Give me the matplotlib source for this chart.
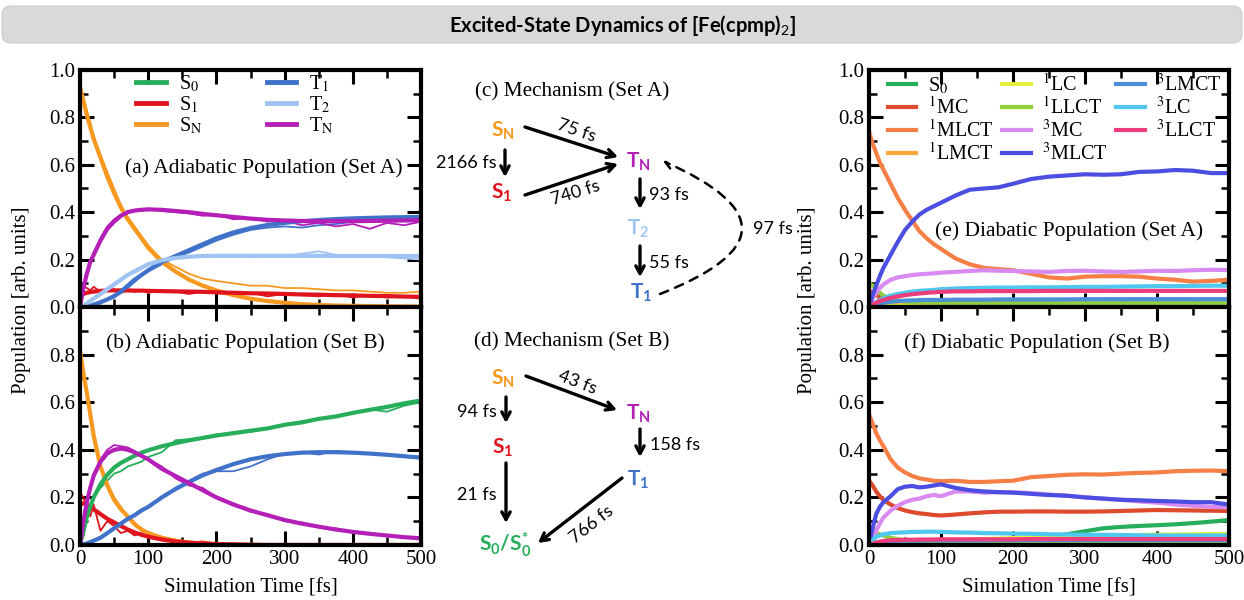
import matplotlib as mpl
mpl.use('Agg')
import matplotlib.pyplot as plt
from matplotlib.lines import Line2D
from matplotlib.patches import FancyBboxPatch
from matplotlib.ticker import MultipleLocator

mpl.rcParams['font.family'] = 'Liberation Serif'
mpl.rcParams['mathtext.fontset'] = 'stix'
mpl.rcParams['mathtext.rm'] = 'Lato'
mpl.rcParams['mathtext.bf'] = 'Lato:bold'
mpl.rcParams['mathtext.it'] = 'Lato:italic'

# ---------------- data ----------------
time = [0, 5, 10, 15, 20, 30, 40, 50, 60, 70, 80, 90, 100, 120, 140, 160, 180, 200,
        225, 250, 275, 300, 325, 350, 375, 400, 425, 450, 475, 500]

adiabatic_states = ['S0', 'S1', 'SN', 'T1', 'T2', 'TN']
adiabatic_labels = [r'S$_0$', r'S$_1$', r'S$_\mathrm{N}$', r'T$_1$', r'T$_2$', r'T$_\mathrm{N}$']

# (a) set A, fitted curves
sn_a_fit = [0.93, 0.87, 0.81, 0.76, 0.71, 0.63, 0.55, 0.48, 0.42, 0.37, 0.33, 0.29, 0.25, 0.19, 0.15, 0.115, 0.09, 0.07,
            0.05, 0.035, 0.025, 0.018, 0.012, 0.009, 0.006, 0.005, 0.004, 0.003, 0.002, 0.002]
s1_a_fit = [0.05, 0.055, 0.06, 0.063, 0.065, 0.068, 0.07, 0.07, 0.07, 0.07, 0.069, 0.069, 0.068, 0.067, 0.066, 0.065, 0.064, 0.062,
            0.06, 0.058, 0.057, 0.055, 0.053, 0.052, 0.05, 0.049, 0.047, 0.046, 0.044, 0.043]
tn_a_fit = [0.0, 0.08, 0.14, 0.19, 0.22, 0.28, 0.33, 0.36, 0.385, 0.40, 0.407, 0.41, 0.412, 0.41, 0.405, 0.40, 0.393, 0.387,
            0.38, 0.373, 0.368, 0.365, 0.363, 0.362, 0.362, 0.362, 0.363, 0.364, 0.365, 0.366]
t1_a_fit = [0.0, 0.0, 0.002, 0.005, 0.01, 0.02, 0.032, 0.046, 0.065, 0.09, 0.115, 0.135, 0.155, 0.19, 0.215, 0.24, 0.265, 0.29,
            0.315, 0.333, 0.346, 0.355, 0.362, 0.367, 0.371, 0.374, 0.376, 0.378, 0.379, 0.38]
t2_a_fit = [0.0, 0.005, 0.015, 0.025, 0.035, 0.055, 0.075, 0.095, 0.115, 0.135, 0.15, 0.165, 0.18, 0.197, 0.207, 0.212, 0.215, 0.216,
            0.216, 0.216, 0.216, 0.216, 0.216, 0.216, 0.215, 0.215, 0.215, 0.215, 0.215, 0.215]
# (a) set A, raw populations
sn_a_raw = [0.93, 0.88, 0.83, 0.78, 0.72, 0.64, 0.57, 0.50, 0.43, 0.38, 0.34, 0.30, 0.26, 0.20, 0.17, 0.14, 0.12, 0.11,
            0.10, 0.09, 0.09, 0.08, 0.08, 0.075, 0.07, 0.07, 0.065, 0.06, 0.06, 0.065]
s1_a_raw = [0.05, 0.09, 0.08, 0.07, 0.085, 0.065, 0.07, 0.075, 0.06, 0.07, 0.065, 0.07, 0.06, 0.07, 0.065, 0.055, 0.065, 0.06,
            0.05, 0.06, 0.045, 0.055, 0.05, 0.045, 0.055, 0.04, 0.05, 0.04, 0.045, 0.035]
tn_a_raw = [0.0, 0.07, 0.13, 0.18, 0.23, 0.29, 0.34, 0.37, 0.39, 0.405, 0.41, 0.405, 0.415, 0.405, 0.40, 0.395, 0.385, 0.39,
            0.37, 0.375, 0.36, 0.365, 0.345, 0.355, 0.34, 0.35, 0.33, 0.355, 0.345, 0.36]
t1_a_raw = [0.0, 0.0, 0.0, 0.003, 0.008, 0.015, 0.03, 0.04, 0.06, 0.08, 0.105, 0.13, 0.15, 0.18, 0.21, 0.23, 0.255, 0.28,
            0.305, 0.325, 0.335, 0.34, 0.335, 0.345, 0.35, 0.36, 0.365, 0.37, 0.375, 0.38]
t2_a_raw = [0.0, 0.01, 0.02, 0.03, 0.04, 0.06, 0.08, 0.1, 0.12, 0.14, 0.155, 0.17, 0.185, 0.2, 0.21, 0.215, 0.22, 0.215,
            0.22, 0.21, 0.22, 0.215, 0.225, 0.235, 0.22, 0.215, 0.22, 0.21, 0.205, 0.2]

# (b) set B, fitted curves
s0_b_fit = [0.0, 0.06, 0.12, 0.16, 0.2, 0.255, 0.295, 0.325, 0.345, 0.36, 0.375, 0.388, 0.398, 0.415, 0.428, 0.44, 0.45, 0.46,
            0.47, 0.48, 0.49, 0.505, 0.515, 0.53, 0.54, 0.555, 0.568, 0.58, 0.595, 0.607]
s1_b_fit = [0.17, 0.175, 0.17, 0.16, 0.15, 0.13, 0.11, 0.095, 0.08, 0.065, 0.053, 0.043, 0.035, 0.023, 0.015, 0.01, 0.006, 0.004,
            0.002, 0.001, 0.0, 0.0, 0.0, 0.0, 0.0, 0.0, 0.0, 0.0, 0.0, 0.0]
sn_b_fit = [0.82, 0.72, 0.64, 0.55, 0.46, 0.33, 0.25, 0.19, 0.15, 0.12, 0.088, 0.065, 0.05, 0.03, 0.018, 0.01, 0.006, 0.004,
            0.002, 0.001, 0.0, 0.0, 0.0, 0.0, 0.0, 0.0, 0.0, 0.0, 0.0, 0.0]
tn_b_fit = [0.0, 0.1, 0.18, 0.24, 0.29, 0.35, 0.385, 0.40, 0.405, 0.40, 0.39, 0.375, 0.36, 0.32, 0.29, 0.26, 0.23, 0.2,
            0.17, 0.145, 0.125, 0.105, 0.09, 0.077, 0.065, 0.055, 0.047, 0.04, 0.033, 0.028]
t1_b_fit = [0.0, 0.003, 0.007, 0.012, 0.018, 0.03, 0.05, 0.07, 0.09, 0.11, 0.125, 0.145, 0.16, 0.2, 0.235, 0.265, 0.293, 0.315,
            0.34, 0.36, 0.373, 0.382, 0.388, 0.39, 0.39, 0.388, 0.384, 0.379, 0.373, 0.367]
# (b) set B, raw populations
s0_b_raw = [0.0, 0.04, 0.1, 0.17, 0.2, 0.24, 0.27, 0.30, 0.31, 0.33, 0.34, 0.35, 0.37, 0.39, 0.44, 0.445, 0.45, 0.465,
            0.47, 0.475, 0.49, 0.505, 0.52, 0.53, 0.54, 0.555, 0.57, 0.56, 0.585, 0.6]
s1_b_raw = [0.22, 0.2, 0.15, 0.12, 0.17, 0.06, 0.1, 0.08, 0.05, 0.06, 0.04, 0.05, 0.03, 0.025, 0.02, 0.01, 0.015, 0.005,
            0.008, 0.0, 0.0, 0.0, 0.0, 0.0, 0.0, 0.0, 0.0, 0.0, 0.0, 0.0]
sn_b_raw = [0.82, 0.73, 0.65, 0.56, 0.47, 0.34, 0.26, 0.2, 0.16, 0.12, 0.09, 0.07, 0.05, 0.035, 0.02, 0.012, 0.008, 0.005,
            0.003, 0.002, 0.0, 0.0, 0.0, 0.0, 0.0, 0.0, 0.0, 0.0, 0.0, 0.0]
tn_b_raw = [0.0, 0.09, 0.17, 0.25, 0.3, 0.36, 0.4, 0.42, 0.415, 0.41, 0.395, 0.37, 0.36, 0.33, 0.28, 0.25, 0.24, 0.2,
            0.175, 0.14, 0.13, 0.1, 0.095, 0.075, 0.07, 0.055, 0.05, 0.04, 0.035, 0.03]
t1_b_raw = [0.0, 0.0, 0.005, 0.01, 0.02, 0.035, 0.05, 0.075, 0.09, 0.105, 0.125, 0.14, 0.16, 0.2, 0.24, 0.27, 0.3, 0.31,
            0.31, 0.33, 0.36, 0.385, 0.39, 0.38, 0.395, 0.39, 0.385, 0.38, 0.375, 0.37]

diabatic_labels = [r'S$_0$', r'$^1$MC', r'$^1$MLCT', r'$^1$LMCT', r'$^1$LC', r'$^1$LLCT',
                   r'$^3$MC', r'$^3$MLCT', r'$^3$LMCT', r'$^3$LC', r'$^3$LLCT']

# (e) diabatic, set A
s0_e = [0.0, 0.002, 0.003, 0.004, 0.005, 0.006, 0.007, 0.008, 0.008, 0.009, 0.009, 0.01, 0.01, 0.01, 0.011, 0.011, 0.011, 0.012,
        0.012, 0.012, 0.012, 0.012, 0.013, 0.013, 0.013, 0.013, 0.013, 0.013, 0.013, 0.013]
mc1_e = [0.07, 0.06, 0.05, 0.04, 0.033, 0.022, 0.015, 0.01, 0.008, 0.007, 0.006, 0.006, 0.005, 0.005, 0.005, 0.005, 0.005, 0.005,
         0.005, 0.005, 0.005, 0.005, 0.005, 0.005, 0.005, 0.005, 0.005, 0.005, 0.005, 0.005]
mlct1_e = [0.74, 0.69, 0.65, 0.61, 0.58, 0.52, 0.46, 0.41, 0.365, 0.32, 0.29, 0.265, 0.245, 0.205, 0.18, 0.165, 0.16, 0.155,
           0.14, 0.125, 0.12, 0.128, 0.13, 0.13, 0.128, 0.12, 0.115, 0.107, 0.11, 0.115]
lmct1_e = [0.02, 0.018, 0.015, 0.013, 0.012, 0.01, 0.009, 0.008, 0.008, 0.008, 0.008, 0.008, 0.008, 0.008, 0.008, 0.008, 0.008, 0.008,
           0.008, 0.008, 0.008, 0.008, 0.008, 0.008, 0.008, 0.008, 0.008, 0.008, 0.008, 0.008]
lc1_e = [0.0, 0.002, 0.003, 0.004, 0.004, 0.005, 0.005, 0.005, 0.005, 0.005, 0.005, 0.005, 0.005, 0.005, 0.005, 0.005, 0.005, 0.005,
         0.005, 0.005, 0.005, 0.005, 0.005, 0.005, 0.005, 0.005, 0.005, 0.005, 0.005, 0.005]
llct1_e = [0.1, 0.09, 0.075, 0.06, 0.048, 0.035, 0.028, 0.023, 0.02, 0.019, 0.018, 0.018, 0.018, 0.017, 0.017, 0.017, 0.017, 0.017,
           0.017, 0.016, 0.016, 0.016, 0.016, 0.016, 0.016, 0.016, 0.016, 0.016, 0.016, 0.016]
mc3_e = [0.0, 0.035, 0.06, 0.08, 0.095, 0.115, 0.125, 0.13, 0.135, 0.138, 0.14, 0.142, 0.145, 0.148, 0.152, 0.155, 0.153, 0.152,
         0.15, 0.148, 0.152, 0.153, 0.15, 0.148, 0.15, 0.153, 0.152, 0.155, 0.157, 0.156]
mlct3_e = [0.0, 0.05, 0.09, 0.13, 0.165, 0.22, 0.275, 0.325, 0.36, 0.39, 0.41, 0.425, 0.44, 0.47, 0.495, 0.50, 0.505, 0.52,
           0.54, 0.55, 0.555, 0.56, 0.558, 0.56, 0.57, 0.572, 0.578, 0.575, 0.565, 0.565]
lmct3_e = [0.0, 0.005, 0.01, 0.014, 0.018, 0.022, 0.025, 0.027, 0.028, 0.029, 0.03, 0.03, 0.03, 0.031, 0.031, 0.031, 0.032, 0.032,
           0.032, 0.032, 0.032, 0.033, 0.033, 0.033, 0.033, 0.033, 0.033, 0.033, 0.033, 0.033]
lc3_e = [0.0, 0.01, 0.02, 0.03, 0.037, 0.048, 0.055, 0.06, 0.065, 0.068, 0.07, 0.072, 0.075, 0.078, 0.08, 0.081, 0.082, 0.082,
         0.083, 0.083, 0.084, 0.085, 0.085, 0.086, 0.087, 0.088, 0.088, 0.089, 0.09, 0.09]
llct3_e = [0.0, 0.01, 0.018, 0.025, 0.03, 0.038, 0.045, 0.05, 0.054, 0.057, 0.06, 0.062, 0.064, 0.066, 0.066, 0.067, 0.067, 0.067,
           0.067, 0.068, 0.068, 0.068, 0.068, 0.068, 0.068, 0.068, 0.068, 0.068, 0.068, 0.068]

# (f) diabatic, set B
s0_f = [0.0, 0.002, 0.004, 0.005, 0.006, 0.008, 0.009, 0.01, 0.011, 0.012, 0.013, 0.014, 0.015, 0.017, 0.019, 0.02, 0.022, 0.025,
        0.03, 0.035, 0.045, 0.058, 0.07, 0.076, 0.08, 0.083, 0.087, 0.092, 0.098, 0.105]
mc1_f = [0.27, 0.25, 0.225, 0.205, 0.19, 0.17, 0.155, 0.145, 0.138, 0.133, 0.13, 0.126, 0.124, 0.128, 0.133, 0.137, 0.14, 0.14,
         0.141, 0.141, 0.14, 0.14, 0.141, 0.143, 0.145, 0.147, 0.146, 0.145, 0.144, 0.143]
mlct1_f = [0.55, 0.51, 0.47, 0.44, 0.415, 0.36, 0.325, 0.305, 0.29, 0.28, 0.275, 0.27, 0.268, 0.27, 0.265, 0.265, 0.268, 0.27,
           0.285, 0.29, 0.295, 0.297, 0.296, 0.30, 0.303, 0.305, 0.31, 0.312, 0.313, 0.31]
lmct1_f = [0.01, 0.01, 0.009, 0.009, 0.008, 0.008, 0.008, 0.008, 0.008, 0.008, 0.008, 0.008, 0.008, 0.008, 0.008, 0.008, 0.008, 0.008,
           0.008, 0.008, 0.008, 0.008, 0.008, 0.008, 0.008, 0.008, 0.008, 0.008, 0.008, 0.008]
lc1_f = [0.0, 0.002, 0.004, 0.006, 0.008, 0.01, 0.012, 0.014, 0.015, 0.016, 0.017, 0.018, 0.019, 0.021, 0.023, 0.025, 0.027, 0.029,
         0.031, 0.033, 0.035, 0.037, 0.039, 0.04, 0.042, 0.043, 0.044, 0.045, 0.046, 0.046]
llct1_f = [0.06, 0.055, 0.05, 0.045, 0.04, 0.03, 0.025, 0.02, 0.017, 0.015, 0.013, 0.012, 0.011, 0.01, 0.01, 0.01, 0.01, 0.01,
           0.01, 0.01, 0.01, 0.01, 0.01, 0.01, 0.01, 0.01, 0.01, 0.01, 0.01, 0.01]
mc3_f = [0.0, 0.03, 0.06, 0.09, 0.115, 0.145, 0.165, 0.18, 0.19, 0.195, 0.205, 0.21, 0.205, 0.225, 0.225, 0.22, 0.222, 0.222,
         0.218, 0.212, 0.207, 0.2, 0.195, 0.19, 0.183, 0.178, 0.17, 0.165, 0.16, 0.158]
mlct3_f = [0.0, 0.07, 0.13, 0.16, 0.18, 0.205, 0.235, 0.245, 0.248, 0.242, 0.245, 0.25, 0.255, 0.24, 0.23, 0.225, 0.222, 0.22,
           0.215, 0.21, 0.207, 0.2, 0.195, 0.19, 0.188, 0.185, 0.183, 0.18, 0.18, 0.17]
lmct3_f = [0.0, 0.005, 0.01, 0.012, 0.014, 0.016, 0.017, 0.018, 0.018, 0.018, 0.019, 0.019, 0.019, 0.019, 0.019, 0.019, 0.02, 0.02,
           0.02, 0.02, 0.02, 0.02, 0.02, 0.02, 0.02, 0.02, 0.02, 0.02, 0.02, 0.02]
lc3_f = [0.0, 0.02, 0.035, 0.04, 0.045, 0.05, 0.052, 0.053, 0.055, 0.055, 0.056, 0.056, 0.055, 0.053, 0.052, 0.05, 0.049, 0.048,
         0.047, 0.045, 0.044, 0.043, 0.043, 0.042, 0.041, 0.04, 0.04, 0.04, 0.04, 0.04]
llct3_f = [0.0, 0.005, 0.01, 0.014, 0.017, 0.02, 0.021, 0.022, 0.022, 0.023, 0.023, 0.023, 0.024, 0.024, 0.024, 0.024, 0.024, 0.024,
           0.025, 0.025, 0.025, 0.025, 0.025, 0.025, 0.025, 0.025, 0.025, 0.025, 0.025, 0.025]

# ---------------- styles ----------------
adia_colors = {'S0': '#27ae5a', 'S1': '#e0141e', 'SN': '#f7981f',
               'T1': '#3f72c8', 'T2': '#9fc3f2', 'TN': '#b41fb8'}
diab_colors = ['#27ae5a', '#dd4a2c', '#f57f45', '#f9a93a', '#e6f03c', '#93cf3c',
               '#d98af0', '#4b4ee0', '#4a8fd8', '#4fc8f0', '#ee3d7c']

fig = plt.figure(figsize=(12.44, 6.0), dpi=100)

# background axes in pixel coordinates (title bar + mechanism sketches)
bg = fig.add_axes([0, 0, 1, 1])
bg.set_xlim(0, 1244)
bg.set_ylim(600, 0)
bg.axis('off')
bg.add_patch(FancyBboxPatch((2, 6), 1240, 37, boxstyle='round,pad=0,rounding_size=9',
                            fc='#d9d9d9', ec='#cccccc', lw=0.8))
bg.text(622, 25, r'Excited-State Dynamics of [Fe(cpmp)$_\mathrm{2}$]', family='Lato',
        weight='bold', size=14.5, ha='center', va='center', math_fontfamily='custom')


def style_axes(ax, xlabels=True):
    ax.set_xlim(0, 500)
    ax.set_ylim(0, 1.0)
    ax.xaxis.set_major_locator(MultipleLocator(100))
    ax.xaxis.set_minor_locator(MultipleLocator(50))
    ax.yaxis.set_major_locator(MultipleLocator(0.2))
    ax.yaxis.set_minor_locator(MultipleLocator(0.1))
    ax.tick_params(which='both', direction='in', top=True, right=True, labelsize=15)
    ax.tick_params(which='major', length=10, width=2.2)
    ax.tick_params(which='minor', length=6, width=1.8)
    ax.tick_params(axis='x', labelbottom=xlabels)
    for sp in ax.spines.values():
        sp.set_linewidth(3)


ax_a = fig.add_axes([80 / 1244, 293 / 600, 341 / 1244, 237 / 600])
ax_b = fig.add_axes([80 / 1244, 55 / 600, 341 / 1244, 238 / 600])
ax_e = fig.add_axes([869 / 1244, 293 / 600, 360 / 1244, 237 / 600])
ax_f = fig.add_axes([869 / 1244, 55 / 600, 360 / 1244, 238 / 600])

# (a)
for key, raw in [('SN', sn_a_raw), ('S1', s1_a_raw), ('T1', t1_a_raw), ('T2', t2_a_raw), ('TN', tn_a_raw)]:
    ax_a.plot(time, raw, color=adia_colors[key], lw=1.3)
for key, fit in [('SN', sn_a_fit), ('S1', s1_a_fit), ('T1', t1_a_fit), ('T2', t2_a_fit), ('TN', tn_a_fit)]:
    ax_a.plot(time, fit, color=adia_colors[key], lw=3)
style_axes(ax_a, xlabels=False)
ax_a.set_yticks([0.0, 0.2, 0.4, 0.6, 0.8, 1.0])
handles = [Line2D([], [], color=adia_colors[k], lw=3.5) for k in adiabatic_states]
ax_a.legend(handles, adiabatic_labels, ncol=2, loc='upper left', bbox_to_anchor=(0.13, 1.035),
            frameon=False, fontsize=14.5, handlelength=1.45, labelspacing=0.0, columnspacing=3.2,
            handletextpad=0.65, borderaxespad=0.2)
ax_a.text(0.54, 0.585, '(a) Adiabatic Population (Set A)', transform=ax_a.transAxes,
          ha='center', va='center', size=15.5)

# (b)
for key, raw in [('SN', sn_b_raw), ('S1', s1_b_raw), ('S0', s0_b_raw), ('T1', t1_b_raw), ('TN', tn_b_raw)]:
    ax_b.plot(time, raw, color=adia_colors[key], lw=1.3)
for key, fit in [('SN', sn_b_fit), ('S1', s1_b_fit), ('S0', s0_b_fit), ('T1', t1_b_fit), ('TN', tn_b_fit)]:
    ax_b.plot(time, fit, color=adia_colors[key], lw=3)
style_axes(ax_b)
ax_b.set_yticks([0.0, 0.2, 0.4, 0.6, 0.8])
ax_b.text(0.485, 0.85, '(b) Adiabatic Population (Set B)', transform=ax_b.transAxes,
          ha='center', va='center', size=15.5)

# (e)
series_e = [s0_e, mc1_e, mlct1_e, lmct1_e, lc1_e, llct1_e, mc3_e, mlct3_e, lmct3_e, lc3_e, llct3_e]
for vals, col, lab in zip(series_e, diab_colors, diabatic_labels):
    ax_e.plot(time, vals, color=col, lw=3, label=lab)
style_axes(ax_e, xlabels=False)
ax_e.set_yticks([0.0, 0.2, 0.4, 0.6, 0.8, 1.0])
ax_e.legend(ncol=3, loc='upper left', bbox_to_anchor=(0.02, 1.035), frameon=False, fontsize=14.5,
            handlelength=1.4, labelspacing=0.05, columnspacing=0.45, handletextpad=0.55, borderaxespad=0.2)
ax_e.text(0.555, 0.32, '(e) Diabatic Population (Set A)', transform=ax_e.transAxes,
          ha='center', va='center', size=15.5)

# (f)
series_f = [s0_f, mc1_f, mlct1_f, lmct1_f, lc1_f, llct1_f, mc3_f, mlct3_f, lmct3_f, lc3_f, llct3_f]
for vals, col in zip(series_f, diab_colors):
    ax_f.plot(time, vals, color=col, lw=3)
style_axes(ax_f)
ax_f.set_yticks([0.0, 0.2, 0.4, 0.6, 0.8])
ax_f.text(0.465, 0.85, '(f) Diabatic Population (Set B)', transform=ax_f.transAxes,
          ha='center', va='center', size=15.5)

# shared axis labels
fig.text(22 / 1244, 0.5, 'Population [arb. units]', rotation=90, ha='center', va='center', size=15)
fig.text(808 / 1244, 0.5, 'Population [arb. units]', rotation=90, ha='center', va='center', size=15)
fig.text(251 / 1244, 12 / 600, 'Simulation Time [fs]', ha='center', va='center', size=15)
fig.text(1049 / 1244, 12 / 600, 'Simulation Time [fs]', ha='center', va='center', size=15)

# ---------------- mechanism sketches ----------------
state_kw = dict(family='Lato', weight='bold', size=15, ha='center', va='center', math_fontfamily='custom')
rate_kw = dict(family='Lato', size=13, va='center', math_fontfamily='custom')
arrow = dict(arrowstyle='->,head_length=0.55,head_width=0.3', lw=2.4, color='black', shrinkA=0, shrinkB=0)


def state(x, y, label, key):
    bg.text(x, y, label, color=adia_colors[key], **state_kw)


def link(x0, y0, x1, y1, props=arrow):
    bg.annotate('', xy=(x1, y1), xytext=(x0, y0), arrowprops=props)


# (c) set A
bg.text(572, 92, '(c) Mechanism (Set A)', ha='center', va='center', size=15.3)
state(503, 131, r'S$_\mathbf{N}$', 'SN')
state(502, 193, r'S$_\mathbf{1}$', 'S1')
state(638, 162, r'T$_\mathbf{N}$', 'TN')
state(638, 229, r'T$_\mathbf{2}$', 'T2')
state(641, 293, r'T$_\mathbf{1}$', 'T1')
link(525, 127, 618, 157)
link(525, 195, 618, 164)
link(505, 150, 505, 177)
link(640, 179, 640, 209)
link(640, 246, 640, 277)
bg.text(576, 131, '75 fs', rotation=-19, ha='center', **rate_kw)
bg.text(576, 193, '740 fs', rotation=17, ha='center', **rate_kw)
bg.text(497, 163, '2166 fs', ha='right', **rate_kw)
bg.text(649, 195, '93 fs', ha='left', **rate_kw)
bg.text(649, 263, '55 fs', ha='left', **rate_kw)
dashed = dict(arrowstyle='->,head_length=0.5,head_width=0.28', lw=1.8, color='black',
              linestyle=(0, (3.5, 3)), connectionstyle='arc3,rad=1.2', shrinkA=0, shrinkB=0)
link(660, 294, 663, 161, dashed)
bg.text(753, 229, '97 fs', ha='left', **rate_kw)

# (d) set B
bg.text(572, 342, '(d) Mechanism (Set B)', ha='center', va='center', size=15.3)
state(503, 379, r'S$_\mathbf{N}$', 'SN')
state(503, 448, r'S$_\mathbf{1}$', 'S1')
state(638, 414, r'T$_\mathbf{N}$', 'TN')
state(638, 480, r'T$_\mathbf{1}$', 'T1')
state(505, 545, r'S$_\mathbf{0}$/S$_\mathbf{0}^{\mathbf{*}}$', 'S0')
link(526, 376, 617, 410)
link(506, 397, 506, 423)
link(640, 429, 640, 457)
link(506, 463, 506, 523)
link(622, 478, 538, 543)
bg.text(577, 382, '43 fs', rotation=-21, ha='center', **rate_kw)
bg.text(497, 412, '94 fs', ha='right', **rate_kw)
bg.text(650, 445, '158 fs', ha='left', **rate_kw)
bg.text(497, 495, '21 fs', ha='right', **rate_kw)
bg.text(592, 525, '766 fs', rotation=38, ha='center', **rate_kw)

fig.savefig('out.png', dpi=100)
